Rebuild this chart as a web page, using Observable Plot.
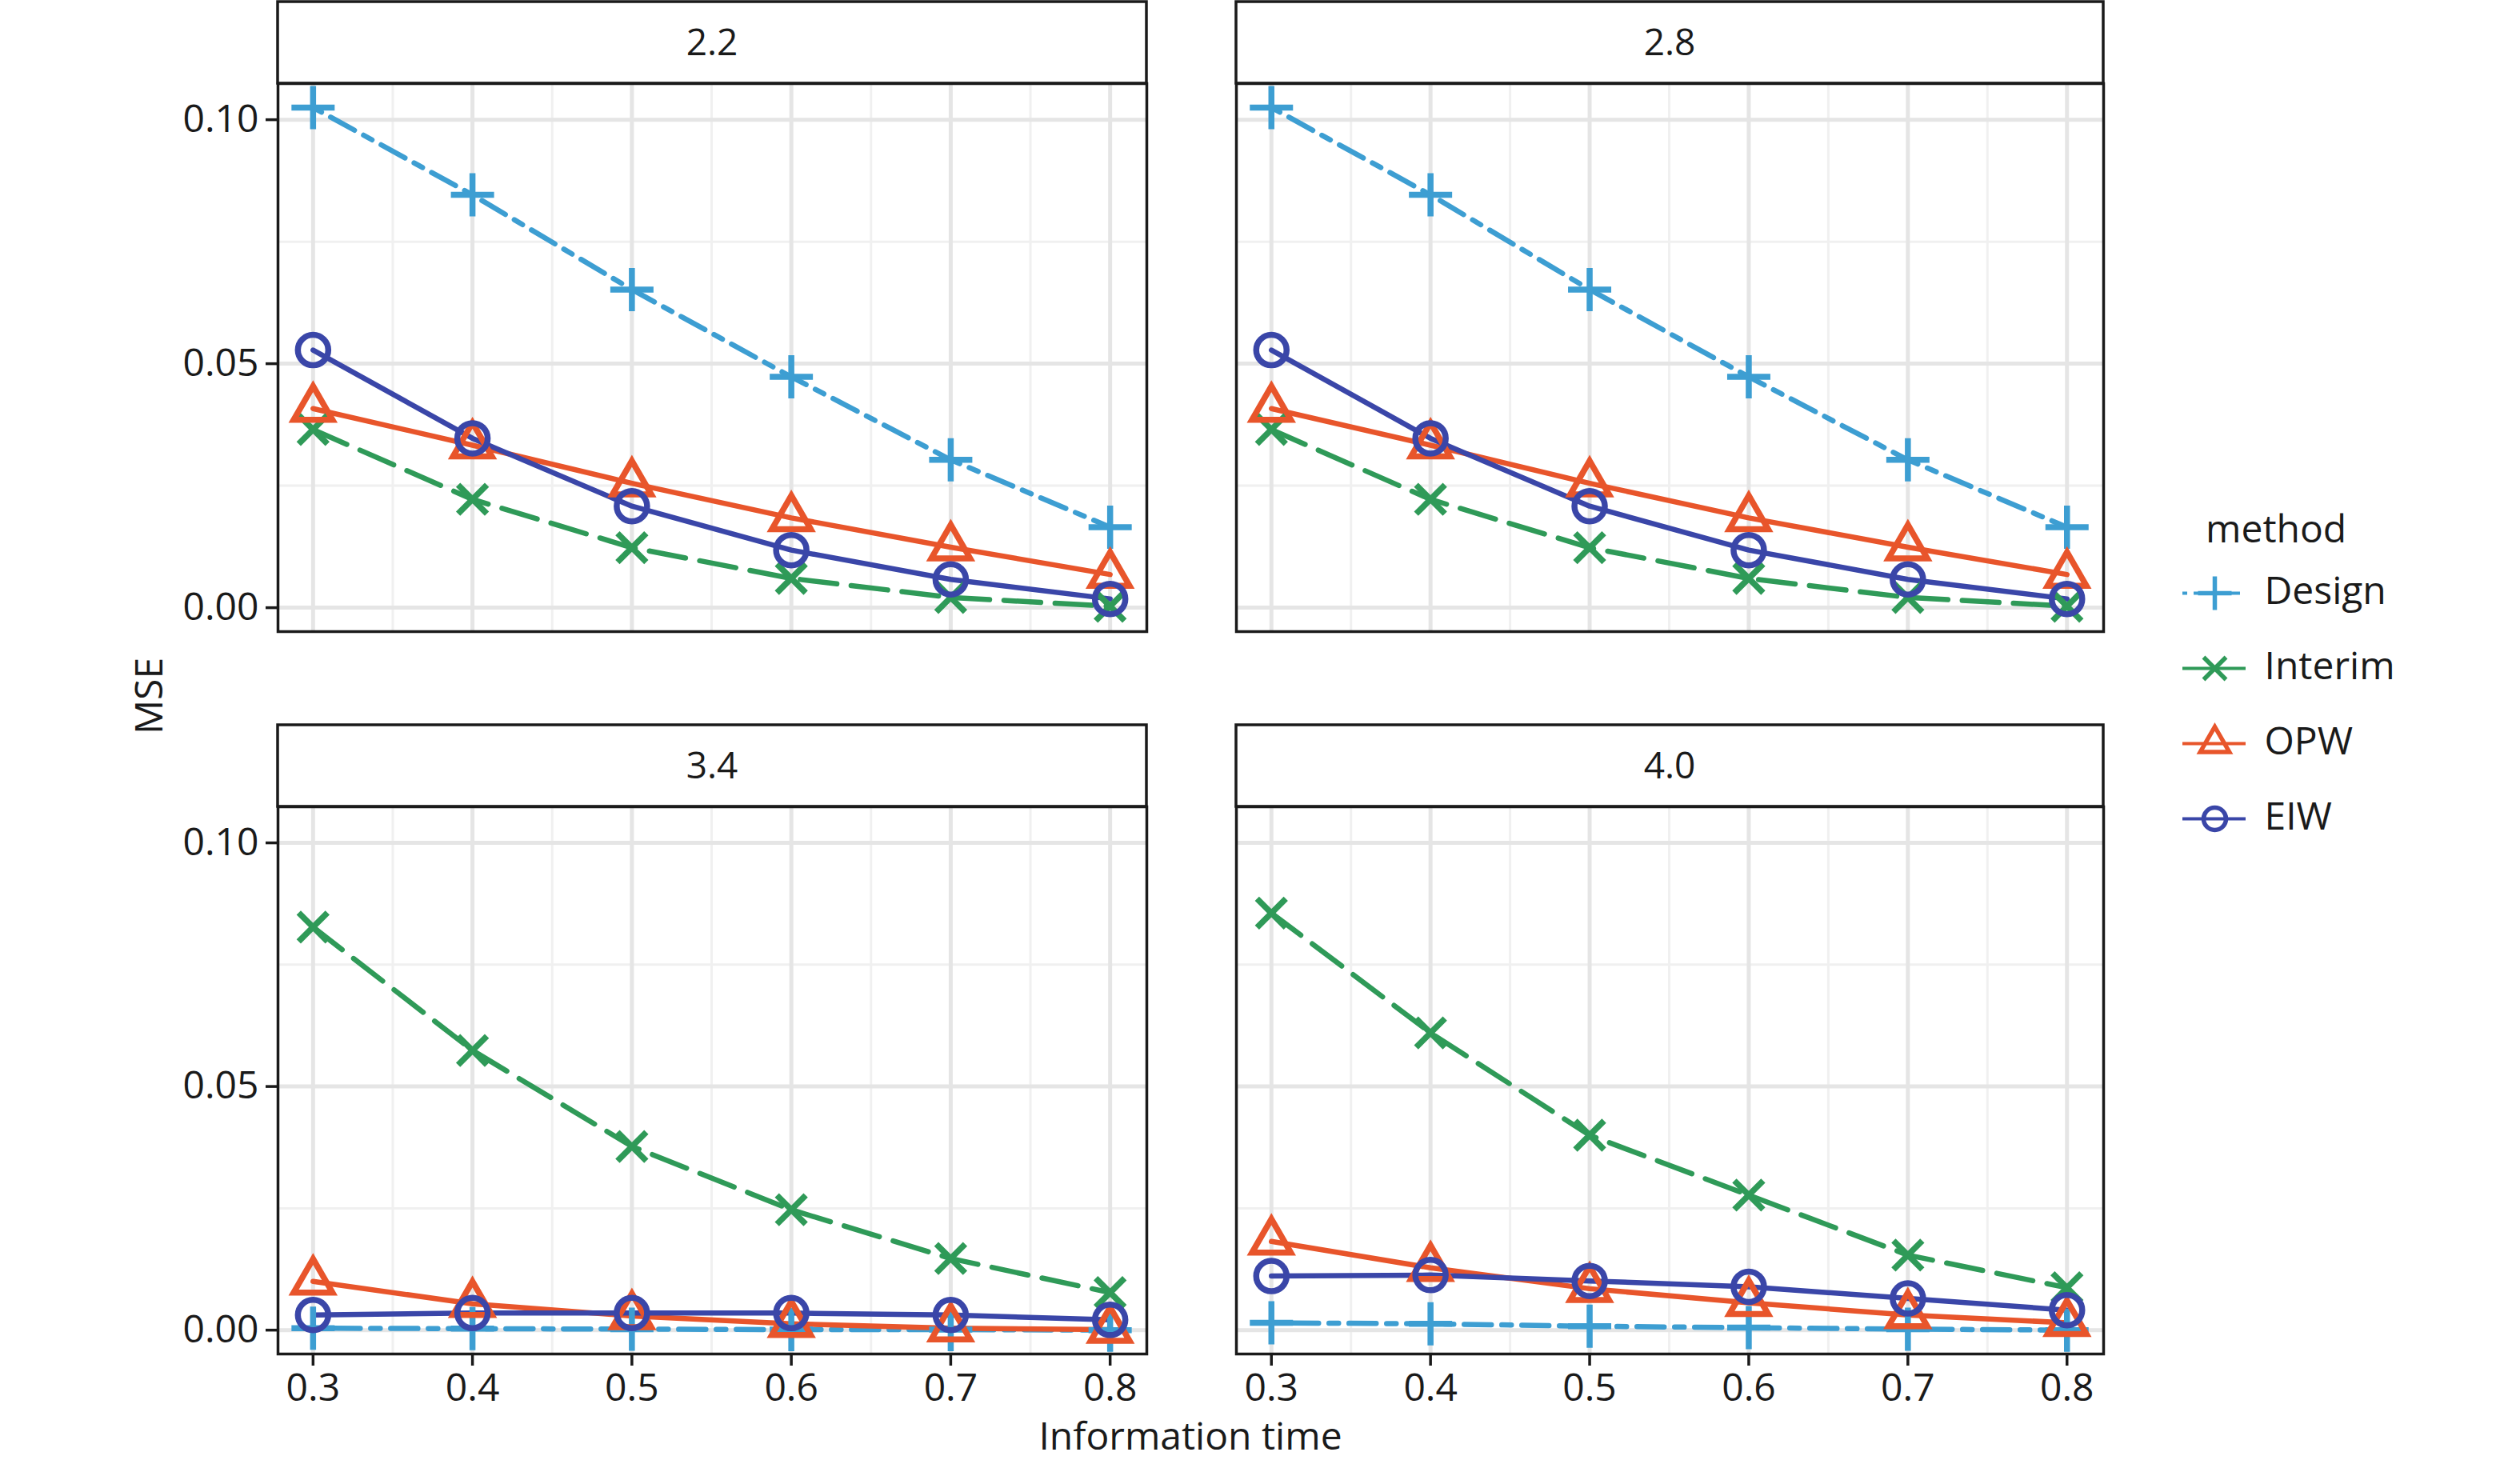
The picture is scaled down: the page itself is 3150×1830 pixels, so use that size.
<!DOCTYPE html>
<html><head><meta charset="utf-8">
<script src="https://cdn.jsdelivr.net/npm/d3@7"></script>
<script src="https://cdn.jsdelivr.net/npm/@observablehq/plot@0.6"></script>
<style>
html,body{margin:0;padding:0;background:#fff;}
#chart{position:relative;width:3150px;height:1830px;background:#fff;font-family:"Open Sans",sans-serif;color:#1a1a1a;overflow:hidden;}
.abs{position:absolute;}
.abs svg{overflow:visible;max-width:none;}
</style></head><body><div id="chart"></div>
<script>
// ---------- data ----------
const panelLabels = ["2.2", "2.8", "3.4", "4.0"];
const infoTime = [0.3, 0.4, 0.5, 0.6, 0.7, 0.8];
const methods = ["Design", "Interim", "OPW", "EIW"];

const design22  = [0.1025, 0.0846, 0.0652, 0.0473, 0.0303, 0.0165];
const interim22 = [0.0365, 0.0222, 0.0123, 0.0060, 0.0021, 0.0003];
const opw22     = [0.0408, 0.0333, 0.0255, 0.0184, 0.0124, 0.0068];
const eiw22     = [0.0528, 0.0347, 0.0208, 0.0118, 0.0058, 0.0018];

const design28  = [0.1025, 0.0846, 0.0652, 0.0473, 0.0303, 0.0165];
const interim28 = [0.0365, 0.0222, 0.0123, 0.0060, 0.0021, 0.0003];
const opw28     = [0.0408, 0.0333, 0.0255, 0.0184, 0.0124, 0.0068];
const eiw28     = [0.0528, 0.0347, 0.0208, 0.0118, 0.0058, 0.0018];

const design34  = [0.0004, 0.0003, 0.0002, 0.0001, 0.0001, 0.0000];
const interim34 = [0.0827, 0.0574, 0.0377, 0.0247, 0.0147, 0.0077];
const opw34     = [0.0100, 0.0054, 0.0029, 0.0013, 0.0004, 0.0001];
const eiw34     = [0.0031, 0.0035, 0.0035, 0.0035, 0.0031, 0.0021];

const design40  = [0.0015, 0.0013, 0.0008, 0.0005, 0.0002, 0.0000];
const interim40 = [0.0856, 0.0610, 0.0400, 0.0277, 0.0154, 0.0087];
const opw40     = [0.0182, 0.0128, 0.0085, 0.0056, 0.0031, 0.0015];
const eiw40     = [0.0111, 0.0113, 0.0101, 0.0089, 0.0065, 0.0041];

const seriesByPanel = {
  "2.2": {Design: design22, Interim: interim22, OPW: opw22, EIW: eiw22},
  "2.8": {Design: design28, Interim: interim28, OPW: opw28, EIW: eiw28},
  "3.4": {Design: design34, Interim: interim34, OPW: opw34, EIW: eiw34},
  "4.0": {Design: design40, Interim: interim40, OPW: opw40, EIW: eiw40}
};

const xMajor = [0.3, 0.4, 0.5, 0.6, 0.7, 0.8];
const xMinor = [0.35, 0.45, 0.55, 0.65, 0.75];
const yMajor = [0.00, 0.05, 0.10];
const yMinor = [0.025, 0.075];

const rows = [];
for (const p of panelLabels) for (const m of methods)
  seriesByPanel[p][m].forEach((v, i) => rows.push({panel: p, method: m, t: infoTime[i], mse: v}));

// ---------- styles ----------
const color = {Design: "#3D9ED2", Interim: "#2F9A58", OPW: "#E8552B", EIW: "#3A46A8"};
const dash  = {Design: "12,13,34,13", Interim: "46,18", OPW: null, EIW: null};
const legendDash = {Design: "6,8,18,8", Interim: null, OPW: null, EIW: null};

const symPlus = {draw(ctx, size){ const r = Math.sqrt(size/Math.PI); ctx.moveTo(-r,0); ctx.lineTo(r,0); ctx.moveTo(0,-r); ctx.lineTo(0,r); }};
const symTimes = {draw(ctx, size){ const r = Math.sqrt(size/Math.PI); ctx.moveTo(-r,-r); ctx.lineTo(r,r); ctx.moveTo(-r,r); ctx.lineTo(r,-r); }};
const symTri = {draw(ctx, size){ const r = Math.sqrt(size/Math.PI); ctx.moveTo(0,-r); ctx.lineTo(0.866*r, r/2); ctx.lineTo(-0.866*r, r/2); ctx.closePath(); }};
const symCirc = {draw(ctx, size){ const r = Math.sqrt(size/Math.PI); ctx.moveTo(r,0); ctx.arc(0,0,r,0,2*Math.PI); ctx.closePath(); }};
const sym = {Design: symPlus, Interim: symTimes, OPW: symTri, EIW: symCirc};
const symR = {Design: 27, Interim: 18, OPW: 28, EIW: 19};
const legR = {Design: 21, Interim: 14, OPW: 21, EIW: 14};

const xDomain = [0.278, 0.823];
const yDomain = [-0.0049, 0.1074];

const boxes = {
  "2.2": {left: 347,  top: 104,  w: 1086, h: 685, yAxis: true,  xAxis: false},
  "2.8": {left: 1545, top: 104,  w: 1084, h: 685, yAxis: false, xAxis: false},
  "3.4": {left: 347,  top: 1008, w: 1086, h: 684, yAxis: true,  xAxis: true},
  "4.0": {left: 1545, top: 1008, w: 1084, h: 684, yAxis: false, xAxis: true}
};
const STRIP_H = 102;

const chart = document.getElementById("chart");

// ---------- overlay (strips + titles) ----------
const ov = d3.select(chart).append("svg").attr("class", "abs")
  .style("left", "0px").style("top", "0px")
  .attr("width", 3150).attr("height", 1830)
  .style("font-family", '"Open Sans", sans-serif');
for (const p of panelLabels) {
  const b = boxes[p];
  ov.append("rect").attr("x", b.left).attr("y", b.top - STRIP_H).attr("width", b.w).attr("height", STRIP_H)
    .attr("fill", "#fff").attr("stroke", "#1a1a1a").attr("stroke-width", 3.5);
  ov.append("text").attr("x", b.left + b.w / 2).attr("y", b.top - STRIP_H / 2 + 16)
    .attr("text-anchor", "middle").attr("font-size", 46).attr("fill", "#1a1a1a").text(p);
}
ov.append("text").attr("transform", "translate(186,870) rotate(-90)").attr("dy", "0.35em")
  .attr("text-anchor", "middle").attr("font-size", 48).attr("fill", "#1a1a1a").text("MSE");
ov.append("text").attr("x", 1488).attr("y", 1812).attr("text-anchor", "middle")
  .attr("font-size", 48).attr("fill", "#1a1a1a").text("Information time");
ov.append("text").attr("x", 2757).attr("y", 678).attr("font-size", 48).attr("fill", "#1a1a1a").text("method");

// ---------- panels ----------
function makePanel(p) {
  const b = boxes[p];
  const mL = b.yAxis ? b.left : 10, mR = 10, mT = 10, mB = b.xAxis ? 90 : 10;
  const data = rows.filter(d => d.panel === p);
  const marks = [
    Plot.gridX(xMinor, {stroke: "#F0F0F0", strokeWidth: 3, strokeOpacity: 1}),
    Plot.gridY(yMinor, {stroke: "#F0F0F0", strokeWidth: 3, strokeOpacity: 1}),
    Plot.gridX(xMajor, {stroke: "#E5E5E5", strokeWidth: 5, strokeOpacity: 1}),
    Plot.gridY(yMajor, {stroke: "#E5E5E5", strokeWidth: 5, strokeOpacity: 1})
  ];
  for (const m of methods) {
    marks.push(Plot.line(data.filter(d => d.method === m), {
      x: "t", y: "mse", stroke: color[m], strokeWidth: 6.5,
      strokeDasharray: dash[m] || undefined, clip: true
    }));
  }
  for (const m of methods) {
    marks.push(Plot.dot(data.filter(d => d.method === m), {
      x: "t", y: "mse", symbol: sym[m], r: symR[m], stroke: color[m],
      strokeWidth: 7.5, fill: "none", strokeLinejoin: "miter", clip: true
    }));
  }
  marks.push(Plot.frame({stroke: "#1a1a1a", strokeWidth: 3.5}));
  if (b.yAxis) marks.push(Plot.axisY(yMajor, {tickSize: 15, tickPadding: 9, tickFormat: d3.format(".2f"),
    strokeWidth: 3.5, stroke: "#1a1a1a", fill: "#1a1a1a", label: null}));
  if (b.xAxis) marks.push(Plot.axisX(xMajor, {tickSize: 15, tickPadding: 9, tickFormat: d3.format(".1f"),
    strokeWidth: 3.5, stroke: "#1a1a1a", fill: "#1a1a1a", label: null}));
  const svg = Plot.plot({
    width: mL + b.w + mR, height: mT + b.h + mB,
    marginLeft: mL, marginRight: mR, marginTop: mT, marginBottom: mB,
    x: b.xAxis ? {domain: xDomain} : {domain: xDomain, axis: null},
    y: b.yAxis ? {domain: yDomain} : {domain: yDomain, axis: null},
    style: {fontFamily: '"Open Sans", sans-serif', fontSize: "48px", background: "transparent", color: "#1a1a1a", overflow: "visible"},
    marks
  });
  const div = document.createElement("div");
  div.className = "abs";
  div.style.left = (b.left - mL) + "px";
  div.style.top = (b.top - mT) + "px";
  div.appendChild(svg);
  chart.appendChild(div);
}
panelLabels.forEach(makePanel);

// ---------- legend ----------
{
  const marks = [];
  for (const m of methods) {
    marks.push(Plot.ruleY([m], {y: d => d, x1: 8, x2: 87, stroke: color[m], strokeWidth: 4,
      strokeDasharray: legendDash[m] || undefined}));
    marks.push(Plot.dot([m], {x: 48, y: d => d, symbol: sym[m], r: legR[m], stroke: color[m],
      strokeWidth: 5.5, fill: "none", strokeLinejoin: "miter"}));
  }
  marks.push(Plot.text(methods, {x: 110, y: d => d, text: d => d, textAnchor: "start", fontSize: 48, fill: "#1a1a1a", dy: -2}));
  const leg = Plot.plot({
    width: 400, height: 440, margin: 0,
    x: {domain: [0, 400], range: [0, 400], axis: null},
    y: {type: "point", domain: methods, range: [121, 403], padding: 0, axis: null},
    style: {fontFamily: '"Open Sans", sans-serif', fontSize: "48px", background: "transparent", overflow: "visible"},
    marks
  });
  const div = document.createElement("div");
  div.className = "abs";
  div.style.left = "2720px";
  div.style.top = "620px";
  div.appendChild(leg);
  chart.appendChild(div);
}
</script></body></html>
